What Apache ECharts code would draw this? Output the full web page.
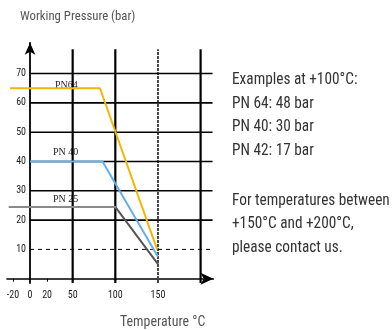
<!DOCTYPE html>
<html><head><meta charset="utf-8">
<script src="https://cdn.jsdelivr.net/npm/echarts@6/dist/echarts.min.js"></script>
<style>html,body{margin:0;padding:0;background:#fff}#c{width:392px;height:330px}</style>
</head><body><div id="c"></div><script>
const xTickLabels = [-20, 0, 20, 50, 100, 150];
const xMinorTicks = [-20, 20];
const yTickLabels = [10, 20, 30, 40, 50, 60, 70];
const vGrid = [50, 100, 150, 200];
const hGrid = [10, 20, 30, 40, 50, 60, 70];
const pn64 = [[-23.5, 65], [82, 65], [149, 10]];
const pn40 = [[0, 40], [85, 40], [150, 7.5]];
const pn25 = [[-25, 24.5], [100, 24.5], [150, 5]];
const seriesNames = ['PN64', 'PN 40', 'PN 25'];
const notes = ['Examples at +100°C:', 'PN 64: 48 bar', 'PN 40: 30 bar', 'PN 42: 17 bar',
  'For temperatures between', '+150°C and +200°C,', 'please contact us.'];

const X_MIN = -27, X_MAX = 215, Y_MIN = -1.5, Y_MAX = 80.5, GRID_TOP = 78.3, GRID_RIGHT = 214;
const font = "'Liberation Sans Narrow','Roboto Condensed',Roboto,sans-serif";

const chart = echarts.init(document.getElementById('c'), null, {renderer: 'canvas'});

function gridSeries(data, style) {
  return {type: 'line', data, symbol: 'none', z: 1, silent: true, lineStyle: style};
}
const gridSeriesList = [];
vGrid.forEach(v => gridSeriesList.push(gridSeries([[v, Y_MIN], [v, GRID_TOP]],
  v === 150 ? {type: [3, 1], color: '#444', width: 2} : {type: 'solid', color: '#000', width: 2.2})));
hGrid.forEach(h => gridSeriesList.push(gridSeries([[0, h], [GRID_RIGHT, h]],
  h === 10 ? {type: [4, 4], color: '#000', width: 1} : {type: 'solid', color: '#000', width: 1.6})));

function lineSeries(name, data, color, z) {
  return {name, type: 'line', data, symbol: 'none', z, lineStyle: {color, width: 2}, silent: true};
}

const option = {
  animation: false,
  grid: {left: 7, right: 178.6, top: 42.8, bottom: 46.9, containLabel: false, outerBoundsMode: 'none'},
  xAxis: {
    type: 'value', min: X_MIN, max: X_MAX,
    axisLine: {show: true, onZero: true, symbol: ['none', 'arrow'], symbolSize: [9, 13], lineStyle: {color: '#000', width: 1.6}},
    axisTick: {show: true, customValues: xMinorTicks, length: 3, lineStyle: {color: '#000', width: 1}},
    axisLabel: {customValues: xTickLabels, fontSize: 10, color: '#222', margin: 7, fontFamily: font},
    splitLine: {show: false}
  },
  yAxis: {
    type: 'value', min: Y_MIN, max: Y_MAX,
    axisLine: {show: true, onZero: true, symbol: ['none', 'arrow'], symbolSize: [8, 12], lineStyle: {color: '#000', width: 1.8}},
    axisTick: {show: false},
    axisLabel: {customValues: yTickLabels, fontSize: 10, color: '#222', margin: -19, fontFamily: font},
    splitLine: {show: false}
  },
  series: gridSeriesList.concat([
    lineSeries(seriesNames[0], pn64, '#f2b705', 3),
    lineSeries(seriesNames[1], pn40, '#62b0e6', 3),
    {name: seriesNames[2], type: 'line', data: pn25, symbol: 'none', z: 3, silent: true,
      lineStyle: {width: 2, color: new echarts.graphic.LinearGradient(0, 0, 1, 0, [
        {offset: 0, color: '#8a8a8a'}, {offset: 0.71, color: '#8a8a8a'},
        {offset: 0.71, color: '#555'}, {offset: 1, color: '#555'}])}}
  ]),
  graphic: [
    {type: 'text', x: 20, y: 17, scaleX: 0.98, style: {text: 'Working Pressure (bar)', fontSize: 13, fill: '#555', fontFamily: font, verticalAlign: 'middle'}},
    {type: 'text', x: 120, y: 322, scaleX: 0.96, style: {text: 'Temperature °C', fontSize: 14.5, fill: '#555', fontFamily: font, verticalAlign: 'middle'}},
    {type: 'text', x: 55, y: 85, style: {text: seriesNames[0], fontSize: 10, fill: '#222', fontFamily: "'Liberation Serif',serif", verticalAlign: 'middle'}},
    {type: 'text', x: 53, y: 152, style: {text: seriesNames[1], fontSize: 10, fill: '#222', fontFamily: "'Liberation Serif',serif", verticalAlign: 'middle'}},
    {type: 'text', x: 53, y: 199, style: {text: seriesNames[2], fontSize: 10, fill: '#222', fontFamily: "'Liberation Serif',serif", verticalAlign: 'middle'}}
  ].concat(notes.map((t, i) => ({
    type: 'text', x: 232, y: [80, 103.5, 127, 150.5, 200.5, 224, 247.5][i], scaleX: 0.9,
    style: {text: t, fontSize: 17, fill: '#333', fontFamily: font, verticalAlign: 'middle'}
  })))
};
chart.setOption(option);
</script></body></html>
